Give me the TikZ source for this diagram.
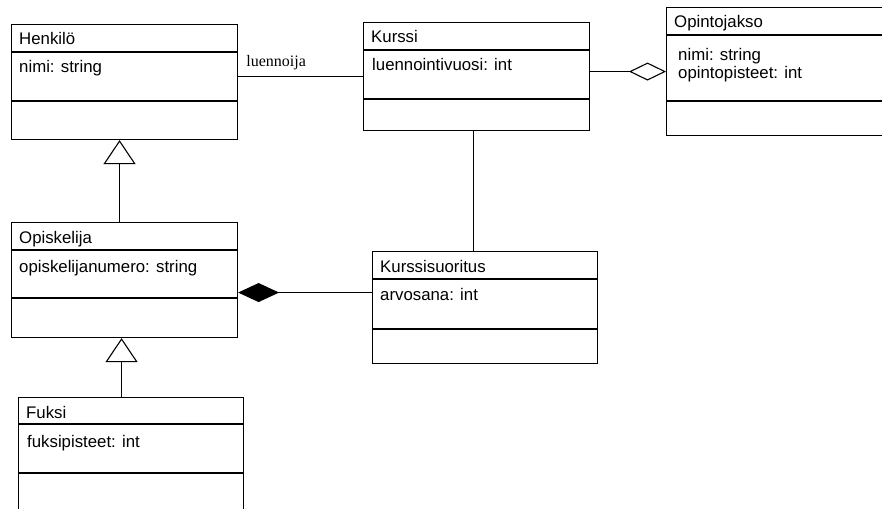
\documentclass[tikz,border=0pt]{standalone}
\usepackage{fontspec}
\setmainfont{Liberation Sans}
\newfontfamily\rolefont{Liberation Serif}
\usetikzlibrary{arrows.meta}

\tikzset{
  classframe/.style={draw, line width=1.1pt, rectangle, anchor=north west, inner sep=0pt},
  classtext/.style={anchor=base west, inner sep=0pt, align=left, font=\fontsize{16.8}{18}\selectfont},
  rolelabel/.style={anchor=base west, inner sep=0pt, font=\rolefont\fontsize{16}{18}\selectfont},
  assoc/.style={line width=1.1pt},
  inherit/.style={assoc, -{Triangle[open, length=24pt, width=32pt]}},
  aggr/.style={assoc, -{Diamond[open, length=37pt, width=18pt]}},
  comp/.style={assoc, -{Diamond[length=41pt, width=19pt]}},
}

\begin{document}
\begin{tikzpicture}[x=1pt, y=-1pt]

    \useasboundingbox (0,0) rectangle (882,508);
    \clip (0,0) rectangle (882,508);

    \foreach \id/\x/\y/\w/\h/\da/\db/\ax/\ay/\title/\attr in {
        henkilo/11/24/226/115/28/77/8/21/Henkilö/{nimi: string},
        kurssi/363/22/226/108/28/77/9/21/Kurssi/{luennointivuosi: int},
        opintojakso/666/7/240/128/28/94/12/44/Opintojakso/{nimi: string\\opintopisteet: int},
        opiskelija/11/222/226/115/28/76/8/22/Opiskelija/{opiskelijanumero: string},
        kurssisuoritus/372/251/225/112/28/78/8/21/Kurssisuoritus/{arvosana: int},
        fuksi/18/397/225/140/27/76/9/23/Fuksi/{fuksipisteet: int}} {
        \node[classframe, minimum width=\w pt, minimum height=\h pt] (\id) at (\x,\y) {};
        \draw[assoc] (\x,\y+\da) -- ++(\w,0) (\x,\y+\db) -- ++(\w,0);
        \node[classtext] (\id-title) at (\x+8,\y+21) {\title};
        \node[classtext] (\id-attr) at (\x+\ax,\y+\da+\ay) {\attr};
    }

    \draw[assoc] (henkilo.east |- kurssi.west) -- (kurssi.west);
    \node[rolelabel] (role) at ([xshift=8pt, yshift=10pt]henkilo.east |- kurssi.west) {luennoija};

    \draw[aggr] (kurssi.east |- opintojakso.west) -- (opintojakso.west);

    \coordinate (kurssidown) at ([xshift=-3pt]kurssi.south);
    \draw[assoc] (kurssidown) -- (kurssidown |- kurssisuoritus.north);

    \coordinate (compend) at ([yshift=15pt]kurssisuoritus.west);
    \draw[comp] (compend) -- (compend -| opiskelija.east);

    \coordinate (opiskelijatop) at ([xshift=-5pt]opiskelija.north);
    \draw[inherit] (opiskelijatop) -- (opiskelijatop |- henkilo.south);

    \coordinate (fuksitop) at ([xshift=-9.5pt]fuksi.north);
    \draw[inherit] (fuksitop) -- (fuksitop |- opiskelija.south);

\end{tikzpicture}
\end{document}
